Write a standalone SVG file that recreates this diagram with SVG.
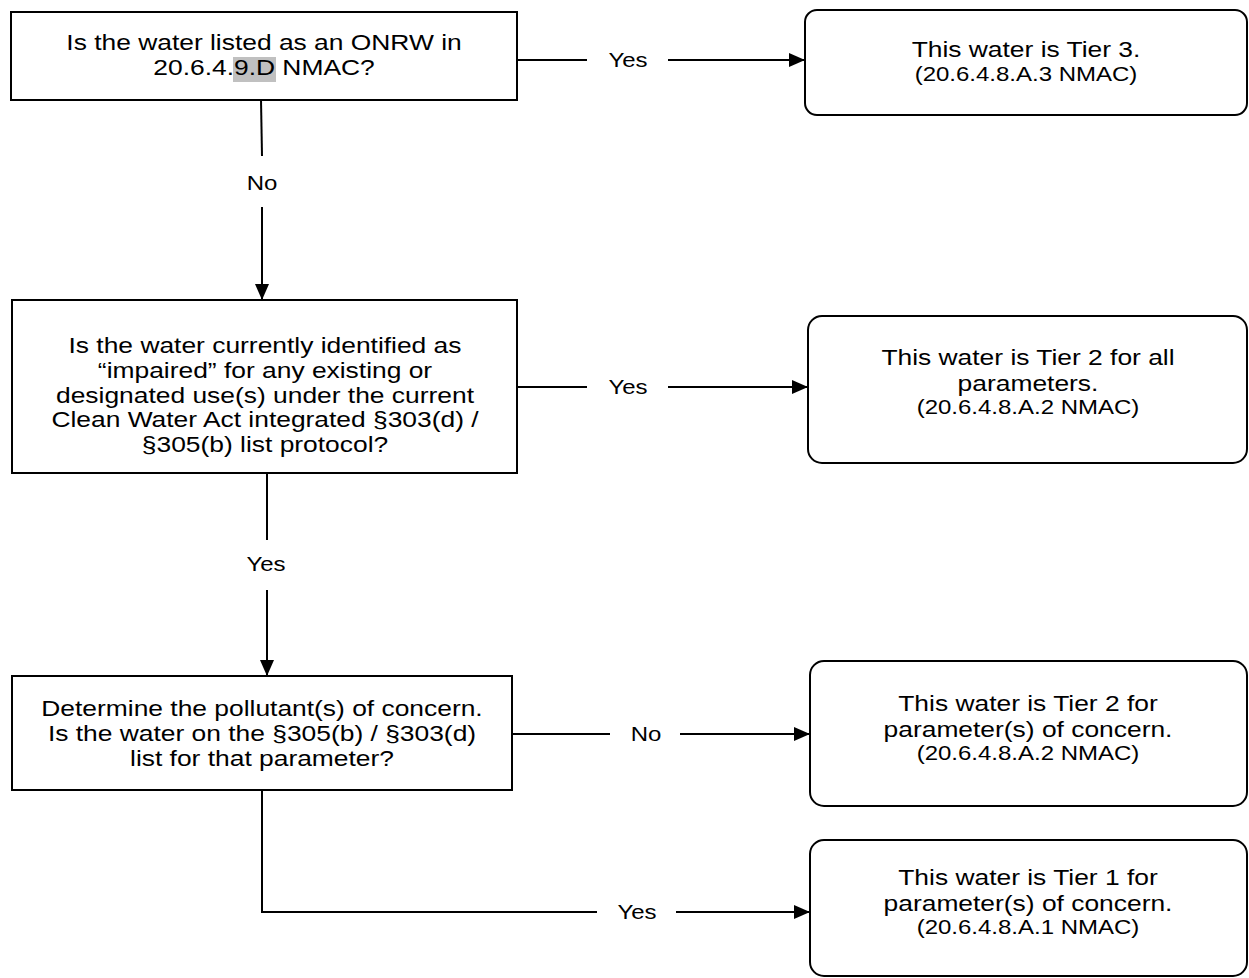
<svg xmlns="http://www.w3.org/2000/svg" width="1249" height="978" viewBox="0 0 1249 978">
<style>
.box{fill:#fff;stroke:#000;stroke-width:2}
.t{font-family:"Liberation Sans",Arial,sans-serif;font-size:22px;fill:#000;text-anchor:middle}
.s{font-size:20px}
.l{font-size:20px}
.c{fill:none;stroke:#000;stroke-width:2}
</style>
<defs>
<marker id="ah" markerWidth="16" markerHeight="14" refX="16" refY="7" orient="auto" markerUnits="userSpaceOnUse" viewBox="0 0 16 14">
<path d="M0,0 L16,7 L0,14 z" fill="#000"/>
</marker>
</defs>
<g id="connectors">
<line class="c" x1="517" y1="60" x2="587" y2="60"/>
<line class="c" x1="668" y1="60" x2="805" y2="60" marker-end="url(#ah)"/>
<text class="t l" transform="translate(628,67) scale(1.2,1)">Yes</text>
<line class="c" x1="261" y1="100" x2="262" y2="156"/>
<line class="c" x1="262" y1="207" x2="262" y2="300" marker-end="url(#ah)"/>
<text class="t l" transform="translate(262,190) scale(1.2,1)">No</text>
<line class="c" x1="517" y1="387" x2="587" y2="387"/>
<line class="c" x1="668" y1="387" x2="808" y2="387" marker-end="url(#ah)"/>
<text class="t l" transform="translate(628,394) scale(1.2,1)">Yes</text>
<line class="c" x1="267" y1="473" x2="267" y2="540"/>
<line class="c" x1="267" y1="590" x2="267" y2="676" marker-end="url(#ah)"/>
<text class="t l" transform="translate(266,571) scale(1.2,1)">Yes</text>
<line class="c" x1="512" y1="734" x2="610" y2="734"/>
<line class="c" x1="680" y1="734" x2="810" y2="734" marker-end="url(#ah)"/>
<text class="t l" transform="translate(646,741) scale(1.2,1)">No</text>
<line class="c" x1="262" y1="790" x2="262" y2="912"/>
<line class="c" x1="261" y1="912" x2="597" y2="912"/>
<line class="c" x1="676" y1="912" x2="810" y2="912" marker-end="url(#ah)"/>
<text class="t l" transform="translate(637,919) scale(1.2,1)">Yes</text>
</g>
<g id="q1">
<rect class="box" x="11" y="12" width="506" height="88"/>
<rect x="233" y="57" width="43" height="25" fill="#c0c0c0"/>
<text class="t" transform="translate(264,50) scale(1.2,1)">Is the water listed as an ONRW in</text>
<text class="t" transform="translate(264,75) scale(1.2,1)">20.6.4.9.D NMAC?</text>
</g>
<g id="r1">
<rect class="box" x="805" y="10" width="442" height="105" rx="12"/>
<text class="t" transform="translate(1026,57) scale(1.2,1)">This water is Tier 3.</text>
<text class="t s" transform="translate(1026,81) scale(1.2,1)">(20.6.4.8.A.3 NMAC)</text>
</g>
<g id="q2">
<rect class="box" x="12" y="300" width="505" height="173"/>
<text class="t" transform="translate(265,353) scale(1.2,1)">Is the water currently identified as</text>
<text class="t" transform="translate(265,378) scale(1.2,1)">“impaired” for any existing or</text>
<text class="t" transform="translate(265,403) scale(1.2,1)">designated use(s) under the current</text>
<text class="t" transform="translate(265,427) scale(1.2,1)">Clean Water Act integrated §303(d) /</text>
<text class="t" transform="translate(265,452) scale(1.2,1)">§305(b) list protocol?</text>
</g>
<g id="r2">
<rect class="box" x="808" y="316" width="439" height="147" rx="14"/>
<text class="t" transform="translate(1028,365) scale(1.2,1)">This water is Tier 2 for all</text>
<text class="t" transform="translate(1028,391) scale(1.2,1)">parameters.</text>
<text class="t s" transform="translate(1028,414) scale(1.2,1)">(20.6.4.8.A.2 NMAC)</text>
</g>
<g id="q3">
<rect class="box" x="12" y="676" width="500" height="114"/>
<text class="t" transform="translate(262,716) scale(1.2,1)">Determine the pollutant(s) of concern.</text>
<text class="t" transform="translate(262,741) scale(1.2,1)">Is the water on the §305(b) / §303(d)</text>
<text class="t" transform="translate(262,766) scale(1.2,1)">list for that parameter?</text>
</g>
<g id="r3">
<rect class="box" x="810" y="661" width="437" height="145" rx="14"/>
<text class="t" transform="translate(1028,711) scale(1.2,1)">This water is Tier 2 for</text>
<text class="t" transform="translate(1028,737) scale(1.2,1)">parameter(s) of concern.</text>
<text class="t s" transform="translate(1028,760) scale(1.2,1)">(20.6.4.8.A.2 NMAC)</text>
</g>
<g id="r4">
<rect class="box" x="810" y="840" width="437" height="136" rx="14"/>
<text class="t" transform="translate(1028,885) scale(1.2,1)">This water is Tier 1 for</text>
<text class="t" transform="translate(1028,911) scale(1.2,1)">parameter(s) of concern.</text>
<text class="t s" transform="translate(1028,934) scale(1.2,1)">(20.6.4.8.A.1 NMAC)</text>
</g>
</svg>
